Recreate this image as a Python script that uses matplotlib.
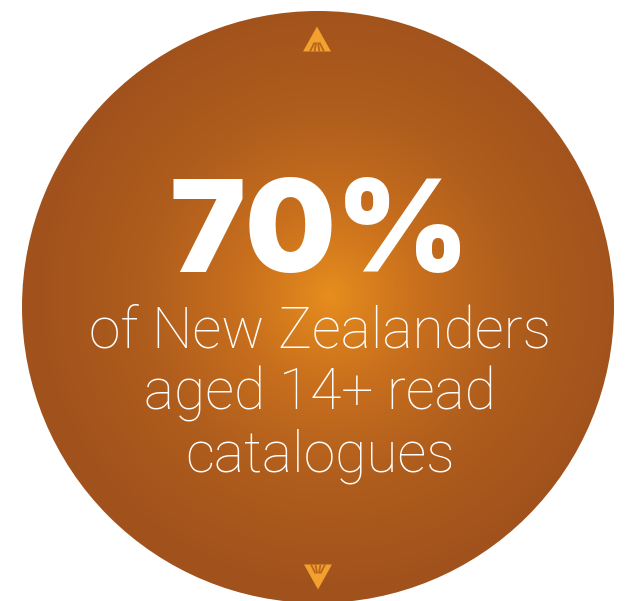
import numpy as np
import matplotlib.pyplot as plt
from matplotlib.patches import Circle, Polygon
from matplotlib.colors import LinearSegmentedColormap

# data
share_pct = 70
caption_lines = ["of New Zealanders", "aged 14+ read", "catalogues"]

W, H = 635, 601
fig = plt.figure(figsize=(W / 100, H / 100), dpi=100)
ax = fig.add_axes([0, 0, 1, 1])
ax.set_xlim(0, W)
ax.set_ylim(H, 0)
ax.axis('off')

# radial gradient disc
cx, cy, r = 318, 307, 296
gx, gy = 330, 295
yy, xx = np.mgrid[0:H, 0:W]
d = np.sqrt((xx - gx) ** 2 + (yy - gy) ** 2) / r
d = np.clip(d, 0, 1)
cmap = LinearSegmentedColormap.from_list('orange', ['#E88E1E', '#C9701D', '#AF5D1D', '#A1521C'])
im = ax.imshow(cmap(d ** 0.9), extent=[0, W, H, 0], interpolation='bilinear')
disc = Circle((cx, cy), r, transform=ax.transData)
im.set_clip_path(disc)


def arrow(x, y, up=True):
    w, h = 14, 25
    s = -1 if up else 1
    tip = (x, y + s * h / 2)
    base_y = y - s * h / 2
    ax.add_patch(Polygon([tip, (x - w, base_y), (x + w, base_y)], closed=True,
                         fc='#F2A02E', ec='none'))
    for off in [-7, -2.5, 2.5, 7]:
        ax.plot([x + off * 0.35, x + off], [base_y + s * 9, base_y], color='#B8661E', lw=1.3,
                solid_capstyle='butt')


arrow(317, 39, up=True)
arrow(318, 577, up=False)

ax.text(320, 272, f"{share_pct}%", color='white', fontsize=92, fontweight=900,
        family='Inter', ha='center', va='baseline')
for i, line in enumerate(caption_lines):
    ax.text(320, 347 + i * 62, line, color='white', fontsize=41, fontweight=200,
            family='Roboto', ha='center', va='baseline')

fig.savefig('out.png', dpi=100, facecolor='white')
